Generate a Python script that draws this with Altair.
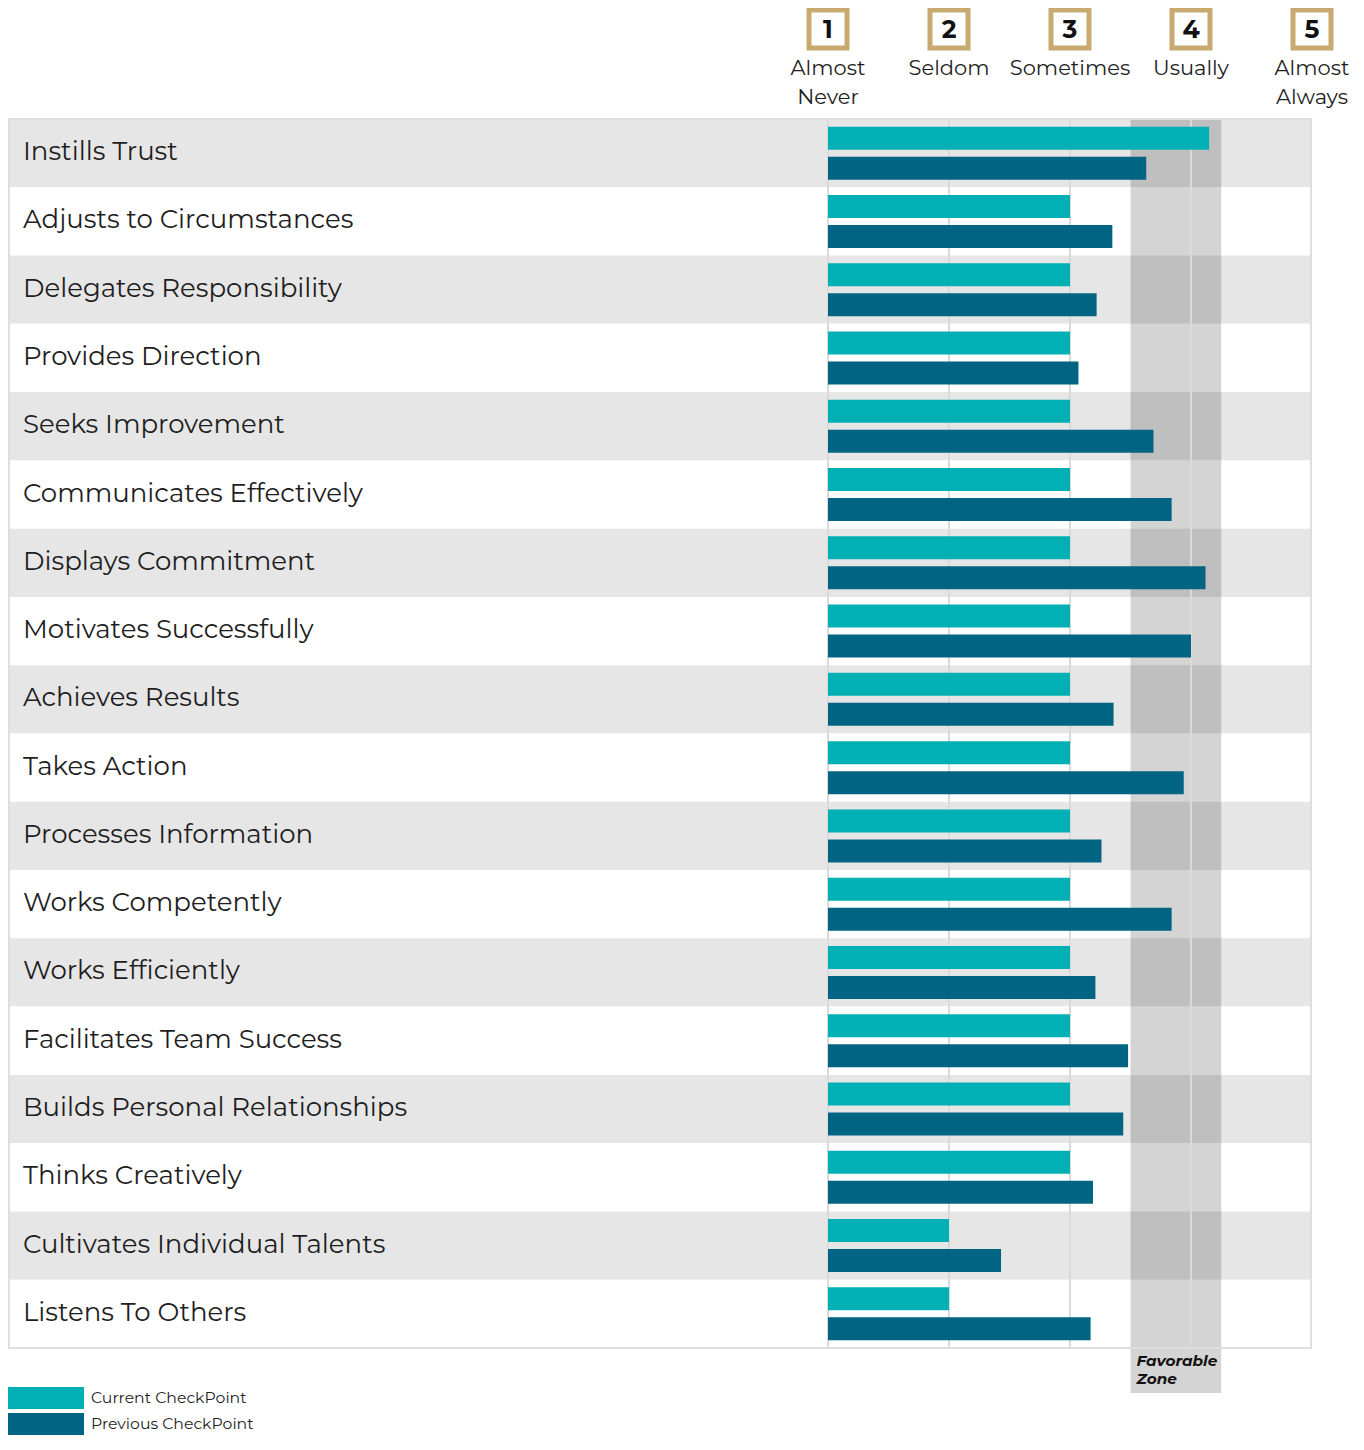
import altair as alt
import pandas as pd

categories = [
    "Instills Trust", "Adjusts to Circumstances", "Delegates Responsibility",
    "Provides Direction", "Seeks Improvement", "Communicates Effectively",
    "Displays Commitment", "Motivates Successfully", "Achieves Results",
    "Takes Action", "Processes Information", "Works Competently",
    "Works Efficiently", "Facilitates Team Success", "Builds Personal Relationships",
    "Thinks Creatively", "Cultivates Individual Talents", "Listens To Others",
]
current = [4.15, 3, 3, 3, 3, 3, 3, 3, 3, 3, 3, 3, 3, 3, 3, 3, 2, 2]
previous = [3.63, 3.35, 3.22, 3.07, 3.69, 3.84, 4.12, 4.0, 3.36, 3.94,
            3.26, 3.84, 3.21, 3.48, 3.44, 3.19, 2.43, 3.17]
series_names = ["Current CheckPoint", "Previous CheckPoint"]
series_colors = ["#00b0b5", "#006482"]
levels = [1, 2, 3, 4, 5]
level_labels = ["Almost\nNever", "Seldom", "Sometimes", "Usually", "Almost\nAlways"]
zone_range = [3.5, 4.25]
zone_label = "Favorable\nZone"

FONT = "Montserrat, 'Open Sans', sans-serif"
W = 1304
H = 1229
X_MIN = -5.777

rows = pd.DataFrame({"cat": categories, "idx": list(range(len(categories)))})
bars = pd.DataFrame({
    "cat": categories * 2,
    "series": [series_names[0]] * len(current) + [series_names[1]] * len(previous),
    "value": current + previous,
})
hdr = pd.DataFrame({"level": levels, "label": level_labels})
zone_df = pd.DataFrame({"a": [zone_range[0]], "b": [zone_range[1]]})
one = pd.DataFrame({"k": [0]})

xs = alt.Scale(domain=[X_MIN, 5], nice=False, zero=False)
ys = alt.Scale(domain=categories, paddingInner=0, paddingOuter=0)

bg = alt.Chart(rows).transform_calculate(odd="datum.idx % 2").mark_rect().encode(
    y=alt.Y("cat:N", scale=ys, axis=None),
    x=alt.value(0), x2=alt.value(W),
    fill=alt.Fill("odd:N", scale=alt.Scale(domain=[0, 1], range=["#e6e6e6", "#ffffff"]), legend=None),
)

zone = alt.Chart(zone_df).mark_rect(color="black", opacity=0.17).encode(
    x=alt.X("a:Q", scale=xs, axis=None), x2="b:Q",
    y=alt.value(0), y2=alt.value(H + 45),
)

grid = alt.Chart(hdr).transform_filter("datum.level < 5").mark_rule(color="#dadada", strokeWidth=2).encode(
    x=alt.X("level:Q", scale=xs, axis=None),
    y=alt.value(0), y2=alt.value(H),
)

border = alt.Chart(one).mark_rect(filled=False, stroke="#dedede", strokeWidth=2).encode(
    x=alt.value(1), x2=alt.value(W - 1), y=alt.value(0), y2=alt.value(H),
)

bar = alt.Chart(bars).mark_bar().encode(
    x=alt.X("value:Q", scale=xs, axis=None),
    x2=alt.datum(1),
    y=alt.Y("cat:N", scale=ys, axis=None),
    yOffset=alt.YOffset("series:N", scale=alt.Scale(domain=series_names, paddingInner=0.2333, paddingOuter=0.255)),
    color=alt.Color("series:N", scale=alt.Scale(domain=series_names, range=series_colors), legend=None),
)

labels = alt.Chart(rows).mark_text(align="left", baseline="middle", fontSize=26, font=FONT, color="#1e1e1e", dy=-1).encode(
    y=alt.Y("cat:N", scale=ys, axis=None),
    x=alt.value(15),
    text="cat:N",
)

boxes = alt.Chart(hdr).mark_square(size=38 * 38, filled=True, fill="white", stroke="#c8aa70", strokeWidth=5, opacity=1).encode(
    x=alt.X("level:Q", scale=xs, axis=None),
    y=alt.value(-90),
)
nums = alt.Chart(hdr).mark_text(fontSize=25, fontWeight="bold", font=FONT, baseline="middle", color="#111111").encode(
    x=alt.X("level:Q", scale=xs, axis=None),
    y=alt.value(-89),
    text="level:N",
)
hdr_text = alt.Chart(hdr).mark_text(fontSize=21, font=FONT, lineBreak="\n", lineHeight=29, baseline="alphabetic", color="#1e1e1e").encode(
    x=alt.X("level:Q", scale=xs, axis=None),
    y=alt.value(-44),
    text="label:N",
)

zone_text = alt.Chart(zone_df).mark_text(align="left", dx=6, fontSize=15.3, fontStyle="italic", fontWeight="bold", font=FONT,
                                          lineBreak="\n", lineHeight=18, baseline="alphabetic", color="#111111").encode(
    x=alt.X("a:Q", scale=xs, axis=None),
    y=alt.value(1247),
    text=alt.value(zone_label),
)

legend_layers = []
for i, (name, col) in enumerate(zip(series_names, series_colors)):
    top = 1268 + 26 * i
    legend_layers.append(alt.Chart(one).mark_rect(color=col).encode(
        x=alt.value(0), x2=alt.value(76), y=alt.value(top), y2=alt.value(top + 22)))
    legend_layers.append(alt.Chart(one).mark_text(align="left", baseline="middle", fontSize=15.7, font=FONT, color="#1e1e1e").encode(
        x=alt.value(83), y=alt.value(top + 11), text=alt.value(name)))

chart = alt.layer(bg, zone, grid, border, bar, labels, boxes, nums, hdr_text, zone_text, *legend_layers).properties(
    width=W, height=H,
    padding={"left": 0, "top": 111, "right": 40, "bottom": 88},
    autosize=alt.AutoSizeParams(type="none"),
).configure_view(stroke=None)

chart.save("out.html", embed_options={"renderer": "svg", "actions": False})
